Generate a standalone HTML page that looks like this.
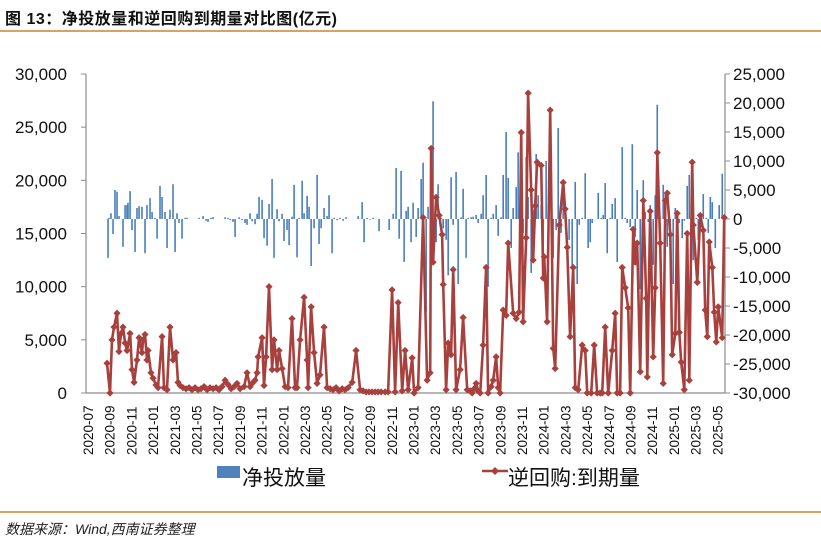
<!DOCTYPE html>
<html><head><meta charset="utf-8"><style>
html,body{margin:0;padding:0;background:#fff;}
body{width:821px;height:542px;position:relative;overflow:hidden;font-family:"Liberation Sans","Noto Sans CJK SC",sans-serif;}
.title{position:absolute;left:5px;top:5px;font-size:16px;font-weight:bold;color:#111;letter-spacing:0.5px;}
.rule{position:absolute;left:0;width:821px;height:2px;background:#d8a35e;}
.src{position:absolute;left:5px;top:519px;font-size:14px;font-style:italic;color:#222;}
</style></head><body>
<div class="title">图 13：净投放量和逆回购到期量对比图(亿元)</div>
<div class="rule" style="top:30px"></div>
<svg id="chart" width="821" height="542" style="position:absolute;left:0;top:0"></svg>
<div class="rule" style="top:511px"></div>
<div class="src">数据来源：Wind,西南证券整理</div>
<script>
// month index since 2020-07
const lineMonths=[1.94,2.21,2.40,2.58,2.86,3.04,3.23,3.41,3.60,3.78,4.06,4.24,4.43,4.70,4.89,5.16,5.26,5.44,5.62,5.72,5.99,6.18,6.45,6.64,7.01,7.19,7.47,7.74,8.02,8.30,8.48,8.67,8.94,9.22,9.50,9.77,10.05,10.33,10.60,10.88,11.16,11.43,11.71,11.99,12.26,12.54,12.82,13.09,13.37,13.65,13.92,14.20,14.57,14.84,15.12,15.31,15.58,15.77,15.86,16.23,16.41,16.60,16.87,17.15,17.33,17.61,17.79,18.07,18.35,18.62,18.99,19.27,19.45,19.73,20.10,20.38,20.47,20.75,21.02,21.30,21.57,21.94,22.22,22.50,22.77,23.05,23.33,23.61,23.88,24.16,24.53,24.89,25.26,25.54,25.82,26.09,26.37,26.65,26.92,27.20,27.57,27.84,28.21,28.49,28.77,29.14,29.41,29.69,30.06,30.24,30.61,31.07,31.44,31.72,31.81,31.99,32.27,32.55,32.82,32.92,33.19,33.38,33.65,33.84,34.11,34.48,34.76,35.13,35.40,35.59,35.77,35.96,36.14,36.33,36.60,36.88,37.06,37.34,37.53,37.80,37.99,38.17,38.45,38.72,38.91,39.37,39.65,39.92,40.11,40.29,40.57,40.75,41.03,41.21,41.40,41.58,41.95,42.14,42.23,42.50,42.78,43.06,43.24,43.61,43.98,44.16,44.35,44.62,44.90,45.09,45.36,45.73,46.01,46.19,46.56,46.84,47.11,47.39,47.58,47.85,48.13,48.50,48.77,48.96,49.23,49.42,49.70,49.97,50.16,50.43,50.62,50.80,51.08,51.36,51.63,51.73,52.00,52.28,52.46,52.65,52.92,53.20,53.39,53.57,53.85,54.03,54.31,54.49,54.68,54.86,55.14,55.41,55.60,55.87,55.97,56.34,56.61,56.89,57.07,57.26,57.44,57.72,57.90,58.09,58.27,58.64,58.82];
const repoValues=[2800,0,5000,6200,7500,3900,5600,6200,4700,4000,5600,2200,1000,3100,5200,3800,5000,5500,3100,4000,1900,1400,750,500,5300,500,300,6200,3100,3800,1000,700,500,400,500,300,500,300,400,600,300,500,400,500,300,600,1200,800,400,600,900,400,600,1900,600,900,1200,1900,3400,5200,700,3400,10000,2200,5000,2200,4000,2300,600,500,7000,500,500,5000,9000,3100,500,8100,3800,900,1700,6200,500,400,300,500,200,400,300,500,1000,4000,300,200,100,100,100,100,100,100,100,100,9700,100,8500,200,4000,300,3300,0,500,16500,1200,1900,23000,12300,18400,16700,14900,10200,300,4700,3600,11600,300,2200,7100,300,200,0,400,900,200,0,4500,11800,0,600,1200,3400,500,0,7800,7300,14100,7500,7000,7600,24500,6700,14600,28200,19100,12500,17600,21700,21400,10800,12800,6700,26600,4200,2300,15800,19800,17300,13700,5300,11800,500,300,4500,4000,0,0,4500,0,0,0,6200,0,4000,7500,0,0,11800,9900,8000,0,15400,12300,14100,2000,18100,8900,1500,17100,3400,9900,22600,14100,900,18100,18800,14900,3600,5600,16900,5700,2900,300,15000,1200,21700,15800,10400,16700,15300,7800,5300,14200,11800,7600,4800,8100,5200,16500];
const barMonths=[2.03,2.12,2.30,2.49,2.67,2.86,3.04,3.41,3.60,3.78,3.87,4.06,4.24,4.52,4.70,4.89,5.16,5.44,5.62,5.90,6.09,6.36,6.55,6.82,7.01,7.28,7.47,7.74,8.02,8.21,8.39,8.57,8.85,9.13,9.31,10.42,10.79,11.07,11.25,11.53,11.71,12.82,13.09,13.28,13.55,13.74,14.11,14.39,14.66,14.84,15.12,15.31,15.58,15.77,15.95,16.23,16.41,16.69,16.87,17.15,17.33,17.61,17.79,18.07,18.25,18.53,18.72,18.99,19.18,19.45,19.64,19.92,20.10,20.38,20.56,20.75,21.02,21.30,21.48,21.67,21.94,22.22,22.40,22.68,22.87,23.14,23.42,23.70,23.97,25.08,25.45,25.63,25.91,26.18,26.46,27.01,27.94,28.31,28.58,28.86,29.04,29.32,29.51,29.69,29.96,30.15,30.43,30.61,30.89,31.07,31.35,31.53,31.81,31.99,32.27,32.45,32.73,32.92,33.19,33.38,33.65,33.84,34.11,34.30,34.57,34.76,35.03,35.22,35.50,35.68,35.96,36.14,36.42,36.60,36.88,37.06,37.34,37.53,37.80,37.99,38.26,38.45,38.72,38.91,39.19,39.37,39.65,39.83,40.11,40.29,40.57,40.75,41.03,41.21,41.49,41.67,41.95,42.14,42.41,42.60,42.87,43.06,43.33,43.52,43.79,43.98,44.25,44.53,44.81,45.09,45.27,45.46,45.73,46.01,46.28,46.47,46.65,47.21,47.48,47.67,47.85,48.04,48.31,48.50,48.77,48.96,49.42,49.70,49.88,50.16,50.35,50.62,50.80,51.08,51.36,51.54,51.82,52.00,52.28,52.46,52.65,52.92,53.20,53.39,53.57,53.85,54.12,54.31,54.49,54.68,54.95,55.14,55.41,55.60,55.78,55.97,56.25,56.43,56.71,56.89,57.17,57.35,57.54,57.72,58.00,58.36,58.64];
const netValues=[-6700,200,1000,-2600,5000,4700,500,-4800,2400,2400,2800,4800,-1900,-5700,1900,2200,2100,-5900,2400,3600,1200,200,-3400,5700,3800,1200,-5000,1600,6000,-5700,1000,-700,-3400,200,200,200,500,-300,-500,200,300,300,200,-200,-500,-3100,300,-200,-700,-1000,1000,-400,-900,900,3800,3300,-3300,-4600,2600,6900,-6700,1700,-400,900,-3800,-1900,-4500,400,5900,-6600,200,6600,1000,4000,2100,-8100,-1600,7600,-4300,-1600,1900,500,4100,-5900,200,-200,200,-300,300,500,2900,-4000,200,-100,200,-2100,-1900,900,8800,-3400,8300,-7400,1400,2100,-4000,2800,-3100,1900,6900,9700,-16000,2100,5500,20300,-4000,6000,200,-1600,-3600,-9700,7200,-1000,8100,-11200,300,5200,-6700,200,300,400,700,-700,900,4100,7600,-11700,200,900,2400,-2900,300,7600,15000,7100,-5000,1900,5500,11500,15000,-2400,10700,3800,-9300,1600,11200,4100,2400,-6200,10000,200,200,-6700,-1900,15700,-2400,6700,-1200,-3600,-8300,6400,-11200,-1000,200,7900,-5000,-4000,-700,4500,200,700,6200,-5900,200,2600,3600,-7400,12400,200,-700,-1400,12900,-3100,5000,-12100,6700,1200,-500,2400,-7900,4100,19700,200,5900,4700,-4800,-2400,-11200,1900,1000,-700,-3300,-300,5700,7600,-500,-7100,200,-3600,-1400,4300,200,-2400,3800,2900,-5000,2400,7800];
const leftTicks=[0,5000,10000,15000,20000,25000,30000];
const rightTicks=[-30000,-25000,-20000,-15000,-10000,-5000,0,5000,10000,15000,20000,25000];
const xTickLabels=["2020-07","2020-09","2020-11","2021-01","2021-03","2021-05","2021-07","2021-09","2021-11","2022-01","2022-03","2022-05","2022-07","2022-09","2022-11","2023-01","2023-03","2023-05","2023-07","2023-09","2023-11","2024-01","2024-03","2024-05","2024-07","2024-09","2024-11","2025-01","2025-03","2025-05"];

const NS="http://www.w3.org/2000/svg";
const svg=document.getElementById('chart');
const L=86,R=725,T=74,B=393;
const xS=m=>L+m*10.85;
const yL=v=>B-(v-0)/30000*(B-T);
const yR=v=>B-(v+30000)/55000*(B-T);
function mk(tag,attrs,parent){const e=document.createElementNS(NS,tag);for(const k in attrs)e.setAttribute(k,attrs[k]);(parent||svg).appendChild(e);return e;}
const fmt=v=>(v<0?"-":"")+Math.abs(v).toLocaleString('en-US');

// axes
let ax=mk('line',{x1:L,y1:T,x2:L,y2:B,stroke:'#8c8c8c','stroke-width':1.2});


ax=mk('line',{x1:R,y1:T,x2:R,y2:B,stroke:'#8c8c8c','stroke-width':1.2});


ax=mk('line',{x1:L,y1:B,x2:R,y2:B,stroke:'#8c8c8c','stroke-width':1.2});



leftTicks.forEach(v=>{
  const y=yL(v);
  mk('line',{x1:L-5,y1:y,x2:L,y2:y,stroke:'#8c8c8c','stroke-width':1});
  const t=mk('text',{x:67,y:y+6,'text-anchor':'end','font-size':17,fill:'#111'});
  t.textContent=fmt(v);
  
  
});
rightTicks.forEach(v=>{
  const y=yR(v);
  mk('line',{x1:R,y1:y,x2:R+5,y2:y,stroke:'#8c8c8c','stroke-width':1});
  const t=mk('text',{x:733,y:y+6,'text-anchor':'start','font-size':17,fill:'#111'});
  t.textContent=fmt(v);
  
  
});
xTickLabels.forEach((s,i)=>{
  const x=xS(i*2)+2;
  const t=mk('text',{x:0,y:0,transform:`translate(${x+5},455) rotate(-90)`,'font-size':13.5,fill:'#111'});
  t.textContent=s;
  
  
});

// bars
const y0=yR(0);
barMonths.forEach((m,i)=>{
  const v=netValues[i];const y=yR(v);
  const r=mk('rect',{x:xS(m)-0.8,y:Math.min(y,y0),width:1.6,height:Math.max(Math.abs(y-y0),0.6),fill:'#4a7ebb'});
  
  
});

// line
const pts=lineMonths.map((m,i)=>xS(m).toFixed(1)+','+yL(repoValues[i]).toFixed(1)).join(' ');
const pl=mk('polyline',{points:pts,fill:'none',stroke:'#a8403d','stroke-width':2.6,'stroke-linejoin':'round'});


lineMonths.forEach((m,i)=>{
  const x=xS(m),y=yL(repoValues[i]),s=3.6;
  const d=mk('polygon',{points:`${x},${y-s} ${x+s},${y} ${x},${y+s} ${x-s},${y}`,fill:'#a8403d'});
  
  
});

// legend
const lg=mk('g',{});


const sw=mk('rect',{x:217,y:466,width:23,height:12,fill:'#4f81bd'},lg);


let lt=mk('text',{x:242,y:485,'font-size':21,fill:'#111'},lg);
lt.textContent='净投放量';


const ll=mk('line',{x1:482,y1:471,x2:508,y2:471,stroke:'#a8403d','stroke-width':2.5},lg);


mk('polygon',{points:'495,467 499,471 495,475 491,471',fill:'#a8403d'},lg);
lt=mk('text',{x:508,y:485,'font-size':21,fill:'#111'},lg);
lt.textContent='逆回购:到期量';


</script>
</body></html>
